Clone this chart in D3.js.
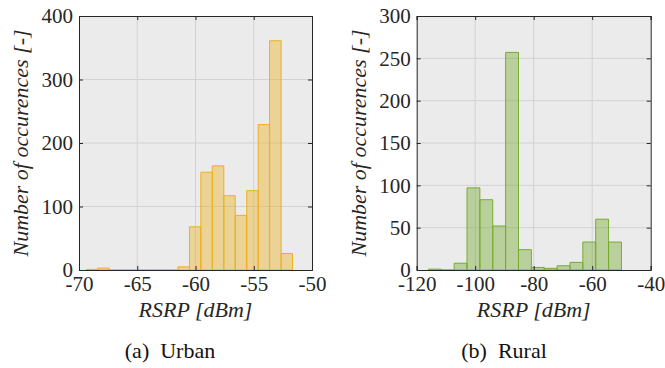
<!DOCTYPE html>
<html>
<head>
<meta charset="utf-8">
<script src="https://cdn.jsdelivr.net/npm/d3@7"></script>
<style>
  html, body { margin: 0; padding: 0; background: #ffffff; }
  svg { display: block; }
</style>
</head>
<body>
<svg id="chart" width="665" height="368" style="font-family:'Liberation Serif'"></svg>
<script>
// ---------------- DATA ----------------
const urbanBinEdges = [-69.38, -68.40, -67.41, -66.43, -65.44, -64.46, -63.48, -62.49, -61.51, -60.52,
                       -59.54, -58.56, -57.57, -56.59, -55.60, -54.62, -53.64, -52.65, -51.67];
const urbanCounts   = [1, 3, 0, 0, 0, 0, 0, 0, 5, 68, 154, 164, 117, 86, 125, 229, 361, 26];
const urbanXTicks   = [-70, -65, -60, -55, -50];
const urbanYTicks   = [0, 100, 200, 300, 400];

const ruralBinEdges = [-116, -111.6, -107.2, -102.8, -98.4, -94, -89.6, -85.2, -80.8, -76.4,
                       -72, -67.6, -63.2, -58.8, -54.4, -50];
const ruralCounts   = [1, 0, 8, 97, 83, 52, 257, 24, 3, 2, 5, 9, 33, 60, 33];
const ruralXTicks   = [-120, -100, -80, -60, -40];
const ruralYTicks   = [0, 50, 100, 150, 200, 250, 300];

const xLabel = "RSRP [dBm]";
const yLabel = "Number of occurences [-]";
const captions = ["(a)\u2002Urban", "(b)\u2002Rural"];

// ---------------- DRAW ----------------
const INK = "#262626";
const TICK_STYLE = "font-family:'Liberation Serif';font-size:21px";
const TITLE_STYLE = "font-family:'Liberation Serif';font-size:22px;font-style:italic";
const CAP_STYLE = "font-family:'Liberation Serif';font-size:22px";
const svg = d3.select("#chart");

function panel(cfg) {
  const { left, right, top, bottom, edges, counts, xTicks, yTicks, color, caption, captionX } = cfg;
  const x = d3.scaleLinear().domain([xTicks[0], xTicks[xTicks.length - 1]]).range([left, right]);
  const y = d3.scaleLinear().domain([yTicks[0], yTicks[yTicks.length - 1]]).range([bottom, top]);
  const g = svg.append("g");

  // background
  g.append("rect").attr("x", left).attr("y", top)
    .attr("width", right - left).attr("height", bottom - top)
    .attr("fill", "#ebebeb");

  // grid
  g.selectAll(".gx").data(xTicks.slice(1, -1)).enter().append("line")
    .attr("x1", d => x(d)).attr("x2", d => x(d))
    .attr("y1", top).attr("y2", bottom)
    .attr("stroke", "#d2d2d2").attr("stroke-width", 1);
  g.selectAll(".gy").data(yTicks.slice(1, -1)).enter().append("line")
    .attr("x1", left).attr("x2", right)
    .attr("y1", d => y(d)).attr("y2", d => y(d))
    .attr("stroke", "#d2d2d2").attr("stroke-width", 1);

  // bars
  const bins = counts.map((c, i) => ({ x0: edges[i], x1: edges[i + 1], c }));
  g.selectAll(".bar").data(bins).enter().append("path")
    .attr("d", d => `M${x(d.x0)},${y(0)}V${y(d.c)}H${x(d.x1)}V${y(0)}Z`)
    .attr("fill", color).attr("fill-opacity", 0.42)
    .attr("stroke", color).attr("stroke-width", 1);

  // axes
  const ax = g.append("g").attr("transform", `translate(0,${bottom})`)
    .call(d3.axisBottom(x).tickValues(xTicks).tickFormat(d => String(d)).tickSize(-4).tickPadding(6));
  const axTop = g.append("g").attr("transform", `translate(0,${top})`)
    .call(d3.axisTop(x).tickValues(xTicks).tickFormat("").tickSize(-4));
  const ay = g.append("g").attr("transform", `translate(${left},0)`)
    .call(d3.axisLeft(y).tickValues(yTicks).tickFormat(d => String(d)).tickSize(-4).tickPadding(6));
  const ayR = g.append("g").attr("transform", `translate(${right},0)`)
    .call(d3.axisRight(y).tickValues(yTicks).tickFormat("").tickSize(-4));
  [ax, axTop, ay, ayR].forEach(a => {
    a.attr("font-family", null).attr("font-size", null);
    a.select(".domain").attr("stroke", INK).attr("stroke-width", 1);
    a.selectAll(".tick line").attr("stroke", INK);
    a.selectAll("text").attr("style", TICK_STYLE).attr("fill", INK);
  });

  // axis titles
  g.append("text").attr("x", (left + right) / 2).attr("y", 317)
    .attr("text-anchor", "middle").attr("style", TITLE_STYLE)
    .attr("fill", INK).text(xLabel);
  g.append("text")
    .attr("transform", `translate(${left - 51},${(top + bottom) / 2}) rotate(-90)`)
    .attr("text-anchor", "middle").attr("style", TITLE_STYLE)
    .attr("fill", INK).text(yLabel);

  // caption
  g.append("text").attr("x", captionX).attr("y", 358)
    .attr("text-anchor", "middle").attr("style", CAP_STYLE)
    .attr("fill", "#111").text(caption);
}

panel({ left: 79, right: 312, top: 16, bottom: 270,
        edges: urbanBinEdges, counts: urbanCounts, xTicks: urbanXTicks, yTicks: urbanYTicks,
        color: "#edb120", caption: captions[0], captionX: 170 });
panel({ left: 416.7, right: 650.7, top: 16, bottom: 270,
        edges: ruralBinEdges, counts: ruralCounts, xTicks: ruralXTicks, yTicks: ruralYTicks,
        color: "#77ac30", caption: captions[1], captionX: 504 });
</script>
</body>
</html>
